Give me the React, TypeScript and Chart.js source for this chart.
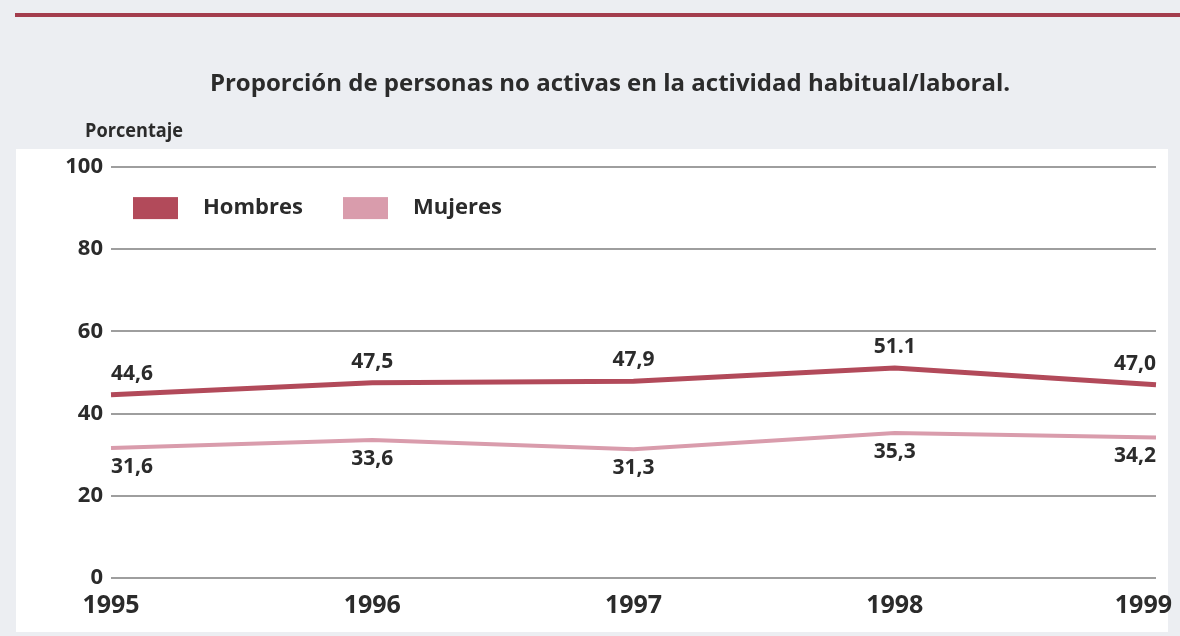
import React, { useEffect, useRef } from "react";
import { Chart, registerables } from "chart.js";

Chart.register(...registerables);

const years = ["1995", "1996", "1997", "1998", "1999"];
const hombres = [44.6, 47.5, 47.9, 51.1, 47.0];
const mujeres = [31.6, 33.6, 31.3, 35.3, 34.2];
const hombresLabels = ["44,6", "47,5", "47,9", "51.1", "47,0"];
const mujeresLabels = ["31,6", "33,6", "31,3", "35,3", "34,2"];
const yTicks = [0, 20, 40, 60, 80, 100];

const TITLE = "Proporción de personas no activas en la actividad habitual/laboral.";
const Y_TITLE = "Porcentaje";
const FONT = "'Open Sans', 'Noto Sans', sans-serif";
const TEXT = "#2b2b2b";
const C_H = "#b24a5a";
const C_M = "#d99cac";

const decorPlugin = {
  id: "decor",
  beforeDraw(chart: any) {
    const ctx = chart.ctx;
    ctx.save();
    ctx.fillStyle = "#eceef2";
    ctx.fillRect(0, 0, chart.width, chart.height);
    ctx.fillStyle = "#ffffff";
    ctx.fillRect(16, 149, 1152, 483);
    // top rule
    ctx.fillStyle = "#a33d4d";
    ctx.fillRect(15, 13, chart.width - 15, 4);
    // title
    ctx.fillStyle = TEXT;
    ctx.font = `bold 24px ${FONT}`;
    ctx.textAlign = "center";
    ctx.textBaseline = "middle";
    ctx.fillText(TITLE, 610, 84, 812);
    ctx.font = `bold 20px ${FONT}`;
    ctx.textAlign = "left";
    ctx.fillText(Y_TITLE, 85, 131, 98);
    ctx.restore();
  },
  afterDatasetsDraw(chart: any) {
    const ctx = chart.ctx;
    const xs = chart.scales.x;
    const ys = chart.scales.y;
    ctx.save();
    ctx.font = `bold 21px ${FONT}`;
    ctx.fillStyle = TEXT;
    ctx.textBaseline = "middle";
    const n = years.length;
    const align = (i: number) => (i === 0 ? "left" : i === n - 1 ? "right" : "center");
    for (let i = 0; i < n; i++) {
      const x = xs.getPixelForValue(i);
      ctx.textAlign = align(i);
      ctx.fillText(hombresLabels[i], x, ys.getPixelForValue(hombres[i]) - 21);
      ctx.fillText(mujeresLabels[i], x, ys.getPixelForValue(mujeres[i]) + 19);
    }
    // year labels along the x axis (last one kept inside the page)
    ctx.font = `bold 25px ${FONT}`;
    ctx.textAlign = "center";
    for (let i = 0; i < n; i++) {
      const w = ctx.measureText(years[i]).width;
      let x = xs.getPixelForTick(i);
      x = Math.min(x, 1172 - w / 2);
      ctx.fillText(years[i], x, xs.top + 28);
    }
    // legend
    const ds = chart.data.datasets;
    const lx = [133, 343];
    const tx = [203, 413];
    const ly = ys.getPixelForValue(90);
    ctx.font = `bold 22px ${FONT}`;
    ctx.textAlign = "left";
    for (let k = 0; k < ds.length; k++) {
      ctx.fillStyle = ds[k].borderColor;
      ctx.fillRect(lx[k], ly - 11, 45, 22);
      ctx.fillStyle = TEXT;
      ctx.fillText(ds[k].label, tx[k], ly);
    }
    ctx.restore();
  },
};

export default function App() {
  const ref = useRef<HTMLCanvasElement>(null);
  useEffect(() => {
    if (!ref.current) return;
    const chart = new Chart(ref.current, {
      type: "line",
      data: {
        labels: years,
        datasets: [
          { label: "Hombres", data: hombres, borderColor: C_H, backgroundColor: C_H, borderWidth: 5, pointRadius: 0, tension: 0 },
          { label: "Mujeres", data: mujeres, borderColor: C_M, backgroundColor: C_M, borderWidth: 4, pointRadius: 0, tension: 0 },
        ],
      },
      options: {
        animation: false,
        responsive: false,
        maintainAspectRatio: false,
        layout: { padding: { top: 167, right: 24, bottom: 8, left: 0 } },
        plugins: { legend: { display: false }, title: { display: false }, tooltip: { enabled: false } },
        scales: {
          x: {
            offset: false,
            grid: { display: false },
            border: { display: false },
            ticks: { display: false },
            afterFit: (s: any) => {
              s.height = 50;
              s.paddingRight = 0;
              s.paddingLeft = 0;
            },
          },
          y: {
            min: 0,
            max: 100,
            afterBuildTicks: (s: any) => {
              s.ticks = yTicks.map((v) => ({ value: v }));
            },
            grid: { color: "#9e9e9e", lineWidth: 2, drawTicks: false },
            border: { display: false },
            ticks: { color: TEXT, font: { family: FONT, size: 22, weight: "bold" }, padding: 8 },
            afterFit: (s: any) => {
              s.width = 111;
              s.paddingTop = 0;
              s.paddingBottom = 0;
            },
          },
        },
      },
      plugins: [decorPlugin],
    });
    return () => chart.destroy();
  }, []);
  return (
    <div style={{ position: "fixed", left: 0, top: 0, width: 1180, height: 636 }}>
      <canvas ref={ref} width={1180} height={636} style={{ display: "block", width: 1180, height: 636 }} />
    </div>
  );
}
